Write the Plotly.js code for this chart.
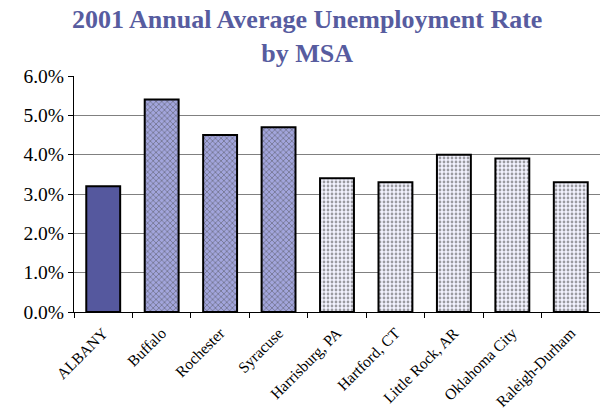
<!DOCTYPE html>
<html><head><meta charset="utf-8">
<script src="https://cdn.plot.ly/plotly-3.0.1.min.js"></script>
<style>html,body{margin:0;padding:0;background:#fff}#chart{width:600px;height:414px}</style>
</head><body><div id="chart"></div>
<script>
const categories = ["ALBANY","Buffalo","Rochester","Syracuse","Harrisburg, PA","Hartford, CT","Little Rock, AR","Oklahoma City","Raleigh-Durham"];
const rates = [0.032,0.054,0.045,0.047,0.034,0.033,0.040,0.039,0.033];
const groups = ["albany","ny","ny","ny","other","other","other","other","other"];

const bgColors = groups.map(g => g==="albany" ? "#55589e" : g==="ny" ? "#a2a5dc" : "#f3f3ff");
const fgColors = groups.map(g => g==="albany" ? "#55589e" : g==="ny" ? "#4a4f9e" : "#858ae0");
const shapes = groups.map(g => g==="albany" ? "" : g==="ny" ? "x" : ".");

const serif = '"Liberation Serif", "Times New Roman", serif';

const trace = {
  type: "bar",
  x: categories,
  y: rates,
  marker: {
    color: bgColors,
    line: {color: "#000", width: 2},
    pattern: {shape: shapes, fgcolor: fgColors, size: 4, solidity: 0.38, fillmode: "overlay"}
  },
  hoverinfo: "none"
};

const layout = {
  width: 600, height: 414,
  margin: {l: 74, r: 0, t: 76, b: 102},
  paper_bgcolor: "#fff", plot_bgcolor: "#fff",
  bargap: 0.42,
  showlegend: false,
  title: {
    text: "<b>2001 Annual Average Unemployment Rate<br>by MSA</b>",
    font: {family: serif, size: 26, color: "#575c9f"},
    x: 0.512, xanchor: "center", xref: "container",
    y: 0.932, yanchor: "bottom", yref: "container"
  },
  xaxis: {
    type: "category",
    tickangle: -45,
    tickfont: {family: serif, size: 15.5, color: "#000"},
    showline: true, linecolor: "#000", linewidth: 1,
    ticks: "outside", tickson: "boundaries", ticklen: 5, tickcolor: "#000",
    ticklabelstandoff: 5,
    showgrid: false
  },
  yaxis: {
    range: [0, 0.06],
    dtick: 0.01,
    tickformat: ".1%",
    tickfont: {family: serif, size: 19.5, color: "#000"},
    showline: true, linecolor: "#000", linewidth: 1,
    ticks: "outside", ticklen: 5, tickcolor: "#000",
    showgrid: true, gridcolor: "#808080", gridwidth: 1,
    zeroline: false
  }
};

Plotly.newPlot("chart", [trace], layout, {staticPlot: true, displayModeBar: false});
</script></body></html>
